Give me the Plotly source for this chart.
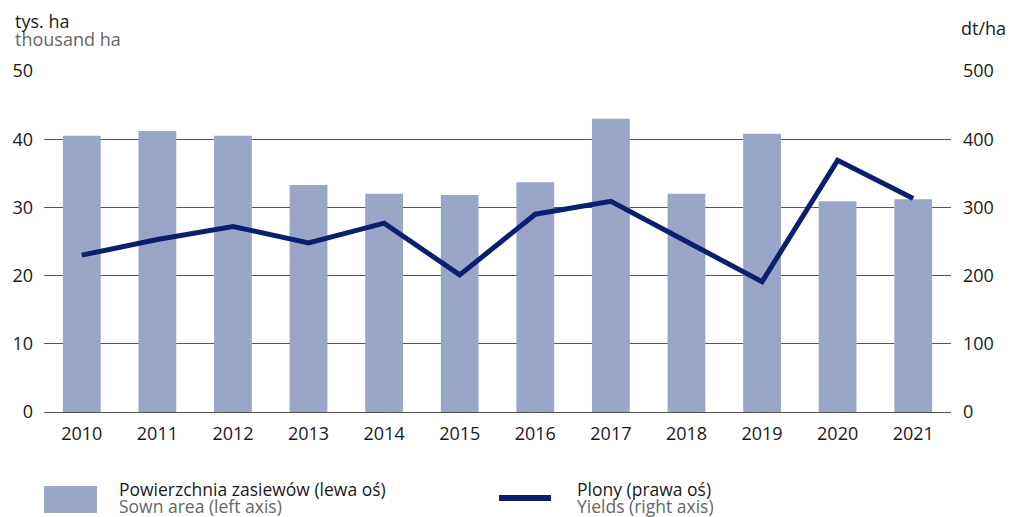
import plotly.graph_objects as go

years = ["2010", "2011", "2012", "2013", "2014", "2015",
         "2016", "2017", "2018", "2019", "2020", "2021"]
sown_area = [40.5, 41.2, 40.5, 33.3, 32.0, 31.8, 33.7, 43.0, 32.0, 40.8, 30.9, 31.2]
yields = [230, 253, 272, 248, 277, 201, 290, 309, 250, 191, 369, 313]

BAR_COLOR = "#99a6c8"
LINE_COLOR = "#0a206f"
FONT = "Open Sans"
DARK = "#1a1a1a"
GREY = "#666666"

W, H = 1012, 517
L, R, T, B = 44, 951, 71, 412  # plot area in pixels


def px(x):
    return (x - L) / (R - L)


def py(y):
    return (B - y) / (B - T)


fig = go.Figure()

fig.add_trace(go.Bar(
    x=years, y=sown_area,
    marker=dict(color=BAR_COLOR, line=dict(width=0)),
    name="Powierzchnia zasiewów (lewa oś)",
))

fig.add_trace(go.Scatter(
    x=years, y=yields, yaxis="y2",
    mode="lines",
    line=dict(color=LINE_COLOR, width=5),
    name="Plony (prawa oś)",
))


def label(text, x, y, color=DARK, size=18, anchor="left"):
    fig.add_annotation(text=text, x=px(x), y=py(y), xref="paper", yref="paper",
                       xanchor=anchor, yanchor="middle", showarrow=False,
                       font=dict(size=size, color=color))


# axis captions
label("tys. ha", 13, 21)
label("thousand ha", 13, 39, GREY)
label("dt/ha", 1008, 28, anchor="right")

# legend, drawn by hand (two-line, two-colour labels)
fig.add_shape(type="rect", xref="paper", yref="paper",
              x0=px(44), x1=px(97), y0=py(486), y1=py(513),
              fillcolor=BAR_COLOR, line=dict(width=0))
fig.add_shape(type="line", xref="paper", yref="paper",
              x0=px(499), x1=px(551), y0=py(498), y1=py(498),
              line=dict(color=LINE_COLOR, width=6))
legend_items = [
    (117, "Powierzchnia zasiewów (lewa oś)", "Sown area (left axis)"),
    (575, "Plony (prawa oś)", "Yields (right axis)"),
]
for x0, pl, en in legend_items:
    label(pl, x0, 489, size=17.5)
    label(en, x0, 506, GREY, size=17.5)

fig.update_layout(
    width=W, height=H,
    margin=dict(l=L, r=W - R, t=T, b=H - B),
    paper_bgcolor="white", plot_bgcolor="white",
    font=dict(family=FONT, size=18, color=DARK),
    bargap=0.5,
    showlegend=False,
    xaxis=dict(showgrid=False, showline=False, ticks="",
               ticklabelstandoff=9, tickfont=dict(size=18)),
    yaxis=dict(range=[0, 50], dtick=10, showgrid=True, gridcolor="#555555",
               gridwidth=1, zeroline=True, zerolinecolor="#555555",
               zerolinewidth=1, showline=False, ticks="",
               ticklabelstandoff=10, tickfont=dict(size=18)),
    yaxis2=dict(range=[0, 500], dtick=100, overlaying="y", side="right",
                showgrid=False, zeroline=False, showline=False, ticks="",
                ticklabelstandoff=11, tickfont=dict(size=18)),
)

# drop the default page margin so the figure sits at the window corner
fig.write_html("out.html",
               config={"displayModeBar": False},
               post_script="document.body.style.margin='0';"
                           "document.body.style.overflow='hidden';")
